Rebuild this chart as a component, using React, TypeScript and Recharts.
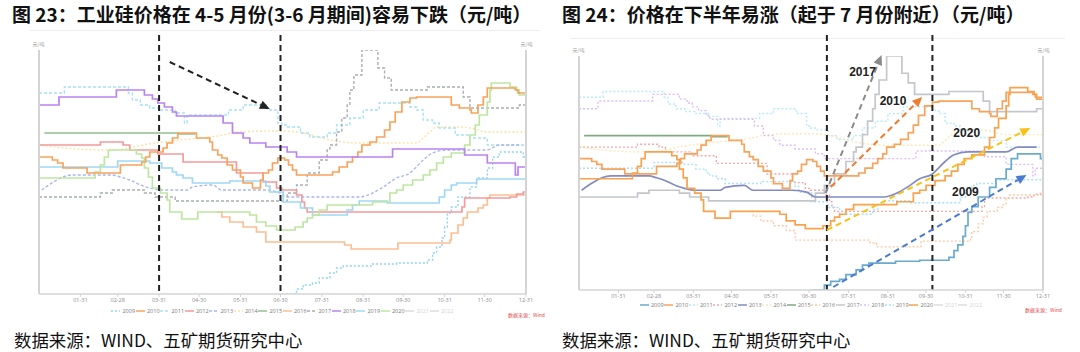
import React from 'react';
import { LineChart, Line, XAxis, YAxis, ReferenceLine, ReferenceDot, Legend } from 'recharts';

// day of year -> price (元/吨)
const YEARS = ['2009', '2010', '2011', '2012', '2013', '2014', '2015', '2016', '2017', '2018', '2019', '2020', '2021', '2022'];
const HIDDEN = ['2021', '2022'];
const SMOOTH = ['2013', '2014'];

const TICK_DAYS = [31, 59, 90, 120, 151, 181, 212, 243, 273, 304, 334, 365];
const TICK_LABELS = ['01-31', '02-28', '03-31', '04-30', '05-31', '06-30', '07-31', '08-31', '09-30', '10-31', '11-30', '12-31'];

const PRICE_MIN = 9000;
const PRICE_MAX = 18760;

const P2009: [number, number][] = [[182, 9000], [193, 9200], [198, 9360], [205, 9440], [210, 9640], [218, 9840], [223, 10040], [228, 10120], [249, 10200], [268, 10240], [291, 10360], [295, 10640], [298, 10880], [302, 11240], [304, 11680], [306, 12240], [309, 12480], [314, 12880], [323, 13280], [328, 13640], [336, 14040], [340, 14480], [345, 14680], [363, 14480], [365, 14480]];
const P2010: [number, number][] = [[0, 14480], [10, 14360], [14, 14240], [18, 14040], [36, 13840], [61, 14160], [77, 14280], [80, 14480], [83, 14680], [93, 14840], [96, 15040], [100, 15240], [104, 15440], [118, 15240], [128, 15080], [130, 14760], [134, 14560], [137, 14440], [141, 14160], [145, 13960], [151, 13680], [153, 13440], [160, 13240], [166, 13560], [168, 13840], [172, 13960], [175, 14240], [179, 14440], [184, 14360], [187, 14160], [190, 13960], [193, 13760], [220, 13880], [225, 14080], [231, 14280], [235, 14480], [239, 14680], [242, 14960], [248, 15080], [253, 15280], [259, 15560], [263, 15880], [267, 16280], [272, 16680], [278, 16840], [283, 16880], [309, 16560], [315, 16440], [323, 16360], [324, 16240], [329, 16560], [333, 16880], [336, 17240], [357, 17160], [359, 17040], [365, 17040]];
const P2011: [number, number][] = [[0, 17040], [19, 17280], [67, 17040], [70, 16760], [76, 16560], [83, 16440], [91, 16360], [102, 16240], [109, 15840], [111, 16160], [142, 16360], [153, 16560], [171, 16360], [179, 15840], [182, 15760], [186, 15680], [196, 15440], [203, 15280], [216, 15440], [223, 15760], [233, 16040], [243, 16360], [255, 16640], [278, 16480], [283, 16360], [288, 15960], [295, 15840], [300, 15640], [312, 15360], [323, 15240], [336, 14960], [365, 14960]];
const P2012: [number, number][] = [[0, 14960], [46, 15080], [63, 14960], [68, 14760], [89, 14600], [108, 14280], [148, 13840], [168, 13480], [178, 13240], [182, 13160], [193, 12960], [197, 12680], [199, 12440], [201, 12280], [317, 12480], [319, 12840], [353, 12880], [358, 13000], [363, 13080], [365, 13080]];
const P2013: [number, number][] = [[2, 13160], [11, 13480], [18, 13680], [25, 13760], [55, 13760], [61, 13680], [68, 13560], [76, 13360], [83, 13240], [91, 13160], [111, 13160], [115, 13280], [130, 13360], [137, 13160], [168, 13160], [179, 13080], [186, 12880], [240, 12880], [250, 13040], [258, 13280], [268, 13640], [278, 13840], [282, 14040], [288, 14360], [295, 14640], [306, 14760], [336, 14760], [345, 14960], [360, 14960]];
const P2014: [number, number][] = [[2, 14960], [18, 14840], [53, 14760], [68, 14840], [78, 14960], [93, 15080], [106, 15160], [138, 15360], [148, 15480], [181, 15520], [198, 15440], [218, 15160], [240, 15040], [283, 15040], [288, 15240], [293, 15480], [298, 15680], [313, 15680], [323, 15640], [336, 15480], [365, 15480]];
const P2015: [number, number][] = [[4, 15440], [104, 15400], [117, 15400]];
const P2016: [number, number][] = [[133, 12280], [137, 12080], [143, 11880], [153, 11680], [163, 11480], [170, 11080], [229, 10960], [234, 10800], [269, 11040], [308, 11160], [309, 11440], [314, 11760], [318, 12040], [321, 12280], [329, 12440], [333, 12560], [336, 12840], [338, 12960], [365, 12960]];
const P2017: [number, number][] = [[0, 12880], [46, 13040], [55, 13160], [79, 13040], [87, 12880], [102, 12720], [186, 13040], [193, 13360], [201, 13840], [210, 14360], [216, 14760], [218, 14960], [223, 15480], [227, 16040], [231, 16560], [233, 17160], [236, 17760], [242, 18760], [254, 18040], [259, 17640], [264, 17160], [291, 17280], [318, 16880], [323, 16440], [360, 16560], [365, 16560]];
const P2018: [number, number][] = [[0, 16560], [15, 16880], [58, 17160], [79, 16960], [85, 16800], [89, 16640], [94, 16480], [100, 16280], [103, 16120], [138, 15840], [145, 15440], [153, 15240], [158, 15040], [170, 14880], [186, 14680], [193, 14480], [265, 14800], [319, 14560], [336, 14240], [357, 13760], [359, 14080], [365, 14080]];
const P2019: [number, number][] = [[0, 14080], [59, 14320], [83, 14240], [92, 14040], [100, 13880], [103, 13760], [108, 13640], [115, 13440], [143, 13520], [170, 13320], [173, 13080], [183, 12680], [196, 12440], [205, 12160], [231, 12360], [235, 12560], [240, 12720], [261, 12640], [300, 12880], [304, 13160], [309, 13360], [313, 13440], [328, 13600], [365, 13600]];
const P2020: [number, number][] = [[0, 13640], [42, 13880], [46, 14160], [49, 14480], [52, 14760], [73, 14600], [77, 14440], [79, 14040], [82, 13680], [85, 13240], [91, 13040], [96, 12760], [98, 12280], [107, 12000], [119, 12280], [158, 12160], [163, 11880], [170, 11720], [178, 11560], [192, 11680], [198, 11880], [201, 12040], [205, 12160], [210, 12360], [216, 12560], [250, 12680], [263, 13040], [268, 13160], [273, 13360], [280, 13560], [288, 13760], [293, 13960], [298, 14240], [303, 14480], [309, 14640], [319, 14960], [323, 15360], [327, 15760], [330, 16160], [336, 16680], [338, 17160], [339, 17440], [353, 17280], [358, 17160], [360, 16960], [365, 16760]];

const SERIES: Record<string, [number, number][]> = {
  '2009': P2009, '2010': P2010, '2011': P2011, '2012': P2012, '2013': P2013, '2014': P2014,
  '2015': P2015, '2016': P2016, '2017': P2017, '2018': P2018, '2019': P2019, '2020': P2020,
};

type LineStyle = { color: string; dash?: string; width: number };

const LEFT_STYLE: Record<string, LineStyle> = {
  '2009': { color: '#8ed3f2', dash: '2 2', width: 1.4 },
  '2010': { color: '#f7a35c', width: 1.7 },
  '2011': { color: '#a5e3f4', dash: '3 2', width: 1.4 },
  '2012': { color: '#f49a9a', width: 1.7 },
  '2013': { color: '#aab6ee', dash: '3 2', width: 1.4 },
  '2014': { color: '#fde2a6', dash: '2 2', width: 1.4 },
  '2015': { color: '#92bf92', width: 1.7 },
  '2016': { color: '#fbbf94', width: 1.7 },
  '2017': { color: '#a9aeb3', dash: '3 2', width: 1.4 },
  '2018': { color: '#b983f2', width: 1.7 },
  '2019': { color: '#9fd8f5', width: 1.7 },
  '2020': { color: '#bde6a0', width: 1.7 },
  '2021': { color: '#dddddd', width: 1.5 },
  '2022': { color: '#bbbbbb', width: 1.7 },
};

const RIGHT_STYLE: Record<string, LineStyle> = {
  '2009': { color: '#6aaacf', width: 1.7 },
  '2010': { color: '#f7a35c', width: 1.7 },
  '2011': { color: '#b6ebf7', dash: '2 2', width: 1.4 },
  '2012': { color: '#f5a7a7', dash: '2 2', width: 1.4 },
  '2013': { color: '#838cc0', width: 1.7 },
  '2014': { color: '#fde8b8', dash: '2 2', width: 1.4 },
  '2015': { color: '#7eab7e', width: 1.7 },
  '2016': { color: '#fcc9a4', dash: '2 2', width: 1.4 },
  '2017': { color: '#c3c7cc', width: 1.7 },
  '2018': { color: '#dcbdf5', dash: '2 2', width: 1.4 },
  '2019': { color: '#a9e0f6', dash: '2 2', width: 1.4 },
  '2020': { color: '#f9a24d', width: 1.7 },
  '2021': { color: '#dddddd', width: 1.5 },
  '2022': { color: '#bbbbbb', width: 1.7 },
};

const LEFT_ORDER = ['2014', '2011', '2013', '2017', '2009', '2016', '2012', '2019', '2015', '2020', '2010', '2018'];
const RIGHT_ORDER = ['2011', '2012', '2014', '2016', '2018', '2019', '2015', '2017', '2013', '2010', '2020', '2009'];

// annotations, in data coordinates
const LEFT_DIVIDERS = [90, 181];
const RIGHT_DIVIDERS = [195, 278];

type Arrow = { from: [number, number]; to: [number, number]; color: string };
const LEFT_ARROWS: Arrow[] = [{ from: [98, 18280], to: [173, 16400], color: '#222' }];
const RIGHT_ARROWS: Arrow[] = [
  { from: [194, 13045], to: [238, 18800], color: '#8a8a8a' },
  { from: [198, 13295], to: [270, 17048], color: '#ee7d31' },
  { from: [195, 11502], to: [355, 15755], color: '#f7c117' },
  { from: [200, 9125], to: [352, 13796], color: '#4a7bd0' },
];
const RIGHT_NOTES: { day: number; price: number; text: string }[] = [
  { day: 223, price: 18090, text: '2017' },
  { day: 247, price: 16880, text: '2010' },
  { day: 305, price: 15550, text: '2020' },
  { day: 304, price: 13090, text: '2009' },
];

const arrowShape = (color: string) => (props: any) => {
  const { x1, y1, x2, y2 } = props;
  const len = Math.hypot(x2 - x1, y2 - y1) || 1;
  const ux = (x2 - x1) / len;
  const uy = (y2 - y1) / len;
  const head = 10;
  const half = 4.5;
  const bx = x2 - ux * head;
  const by = y2 - uy * head;
  return (
    <g>
      <line x1={x1} y1={y1} x2={bx} y2={by} stroke={color} strokeWidth={2} strokeDasharray="6 4" />
      <polygon points={`${x2},${y2} ${bx - uy * half},${by + ux * half} ${bx + uy * half},${by - ux * half}`} fill={color} />
    </g>
  );
};

const noteShape = (text: string) => (props: any) => (
  <text x={props.cx} y={props.cy} textAnchor="middle" dominantBaseline="central"
    fontSize={12} fontWeight="bold" fill="#222" fontFamily="'Liberation Sans', Arial, sans-serif">{text}</text>
);

const LegendRow = ({ styles }: { styles: Record<string, LineStyle> }) => (
  <div style={{ display: 'flex', justifyContent: 'center', alignItems: 'center', height: 12 }}>
    {YEARS.map((y) => {
      const st = styles[y];
      const off = HIDDEN.includes(y);
      return (
        <div key={y} style={{ width: 24.5, display: 'flex', alignItems: 'center', justifyContent: 'center' }}>
          <svg width={9} height={4}>
            <line x1={0} y1={2} x2={9} y2={2} stroke={off ? '#ddd' : st.color} strokeWidth={1.5} strokeDasharray={st.dash} />
          </svg>
          <span style={{ fontSize: 5.5, marginLeft: 2, color: off ? '#d5d5d5' : '#777', fontFamily: "'Open Sans', sans-serif" }}>{y}</span>
        </div>
      );
    })}
  </div>
);

type PanelProps = {
  styles: Record<string, LineStyle>;
  order: string[];
  top: number;
  right: number;
  bottom: number;
  axisHeight: number;
  dividers: number[];
  dividerTop: number;
  arrows: Arrow[];
  notes: { day: number; price: number; text: string }[];
};

const axisLine = { stroke: '#d4d4d4', strokeWidth: 2 };

function PricePanel({ styles, order, top, right, bottom, axisHeight, dividers, dividerTop, arrows, notes }: PanelProps) {
  return (
    <LineChart width={540} height={320} margin={{ top, right, bottom, left: 38 }}>
      <XAxis xAxisId="d" dataKey="day" type="number" domain={[0, 365]} allowDataOverflow ticks={TICK_DAYS} interval={0}
        tickFormatter={(d: number) => TICK_LABELS[TICK_DAYS.indexOf(d)]} height={axisHeight}
        tick={{ fontSize: 5.5, fill: '#8a8a8a', fontFamily: "'Open Sans', sans-serif" }}
        tickSize={3} tickMargin={1} axisLine={{ stroke: '#d4d4d4', strokeWidth: 1.5 }} tickLine={{ stroke: '#d4d4d4' }} />
      <YAxis yAxisId="p" type="number" domain={[PRICE_MIN, PRICE_MAX]} allowDataOverflow width={1} tick={false} tickLine={false}
        axisLine={axisLine} label={{ value: '元/吨', position: 'top', offset: 4, fontSize: 5, fill: '#999' }} />
      <YAxis yAxisId="q" orientation="right" type="number" domain={[PRICE_MIN, PRICE_MAX]} allowDataOverflow width={1} tick={false}
        tickLine={false} axisLine={axisLine} label={{ value: '元/吨', position: 'top', offset: 4, fontSize: 5, fill: '#999' }} />
      {order.map((y) => (
        <Line key={y} name={y} xAxisId="d" yAxisId="p" data={SERIES[y].map(([day, price]) => ({ day, price }))} dataKey="price"
          type={SMOOTH.includes(y) ? 'monotone' : 'stepAfter'} stroke={styles[y].color} strokeWidth={styles[y].width}
          strokeDasharray={styles[y].dash} dot={false} activeDot={false} isAnimationActive={false} />
      ))}
      {dividers.map((d) => (
        <ReferenceLine key={`div-${d}`} xAxisId="d" yAxisId="p" ifOverflow="visible"
          segment={[{ x: d, y: dividerTop }, { x: d, y: PRICE_MIN }]} stroke="#222" strokeWidth={2} strokeDasharray="6 4" />
      ))}
      {arrows.map((a, i) => (
        <ReferenceLine key={`arr-${i}`} xAxisId="d" yAxisId="p" ifOverflow="visible"
          segment={[{ x: a.from[0], y: a.from[1] }, { x: a.to[0], y: a.to[1] }]} shape={arrowShape(a.color)} />
      ))}
      {notes.map((n) => (
        <ReferenceDot key={n.text} xAxisId="d" yAxisId="p" x={n.day} y={n.price} r={0} ifOverflow="visible" shape={noteShape(n.text)} />
      ))}
      <Legend verticalAlign="bottom" content={() => <LegendRow styles={styles} />} />
    </LineChart>
  );
}

const titleStyle: React.CSSProperties = {
  position: 'absolute', top: 4, fontSize: 19, fontWeight: 700, lineHeight: '20px', color: '#111', whiteSpace: 'nowrap',
};
const sourceStyle: React.CSSProperties = {
  position: 'absolute', top: 330, fontSize: 17.4, lineHeight: '20px', color: '#111', whiteSpace: 'nowrap',
};
const windStyle: React.CSSProperties = {
  position: 'absolute', fontSize: 5, lineHeight: '6px', color: '#e04848', whiteSpace: 'nowrap',
};

export default function App() {
  return (
    <div style={{ position: 'absolute', left: 0, top: 0, width: 1080, height: 352, background: '#fff', overflow: 'hidden',
      fontFamily: "'Noto Sans CJK SC', 'Noto Sans', sans-serif" }}>
      <div style={{ ...titleStyle, left: 12 }}>图 23：工业硅价格在 4-5 月份(3-6 月期间)容易下跌（元/吨）</div>
      <div style={{ ...titleStyle, left: 562 }}>图 24：价格在下半年易涨（起于 7 月份附近）（元/吨）</div>
      <div style={{ position: 'absolute', left: 30, top: 30, width: 510, height: 1, background: '#eeeeee' }} />
      <div style={{ position: 'absolute', left: 570, top: 38, width: 495, height: 1, background: '#eeeeee' }} />
      <div style={{ position: 'absolute', left: 0, top: 0 }}>
        <PricePanel styles={LEFT_STYLE} order={LEFT_ORDER} top={50} right={13} bottom={3} axisHeight={11}
          dividers={LEFT_DIVIDERS} dividerTop={19360} arrows={LEFT_ARROWS} notes={[]} />
      </div>
      <div style={{ position: 'absolute', left: 540, top: 0 }}>
        <PricePanel styles={RIGHT_STYLE} order={RIGHT_ORDER} top={56} right={36} bottom={9} axisHeight={9}
          dividers={RIGHT_DIVIDERS} dividerTop={19634} arrows={RIGHT_ARROWS} notes={RIGHT_NOTES} />
      </div>
      <div style={{ ...windStyle, left: 508, top: 312 }}>数据来源：Wind</div>
      <div style={{ ...windStyle, left: 1025, top: 307 }}>数据来源：Wind</div>
      <div style={{ ...sourceStyle, left: 14 }}>数据来源：WIND、五矿期货研究中心</div>
      <div style={{ ...sourceStyle, left: 562 }}>数据来源：WIND、五矿期货研究中心</div>
    </div>
  );
}
